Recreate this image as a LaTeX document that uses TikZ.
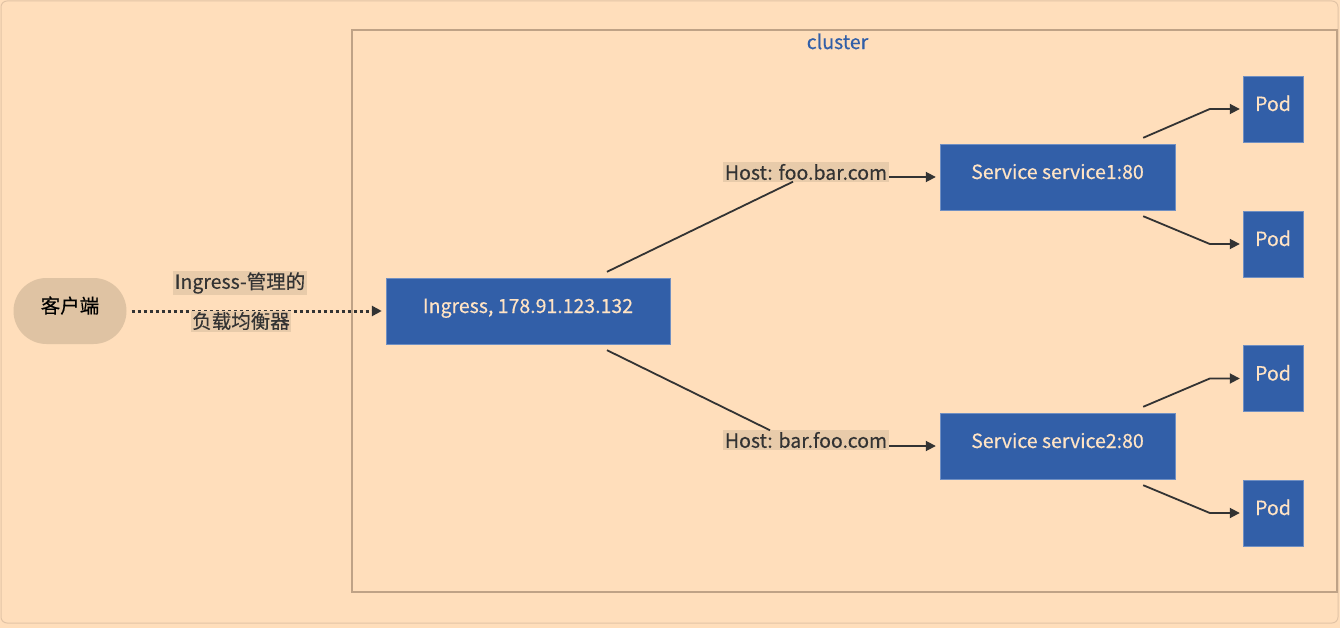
\documentclass[tikz,border=0pt]{standalone}
\usepackage{fontspec}
\setmainfont{Noto Sans CJK SC}[BoldFont={Noto Sans CJK SC},BoldFeatures={FakeBold=0.35}]
\usepackage{tikz}
\usetikzlibrary{arrows.meta}
\usetikzlibrary{calc}

\definecolor{peach}{HTML}{FFDEBB}
\definecolor{kblue}{HTML}{325FA8}
\definecolor{ktext}{HTML}{FFE3C4}
\definecolor{kclient}{HTML}{DFC3A3}
\definecolor{klabel}{HTML}{E8CBAA}
\definecolor{kdark}{HTML}{333333}
\definecolor{kborder}{HTML}{BFA286}
\definecolor{kframe}{HTML}{E2C4A6}

\begin{document}
\begin{tikzpicture}[x=1pt,y=-1pt,font=\fontsize{19.5}{23}\selectfont\bfseries,
    lbl/.style={fill=klabel,text=kdark,inner sep=1.5pt},
    link/.style={draw=kdark,line width=1.8pt,-{Triangle[length=10pt,width=10pt]},shorten >=4pt},
    plain/.style={draw=kdark,line width=1.8pt}]
  \useasboundingbox[fill=peach] (0,0) rectangle (1340,628);
  \draw[kframe,line width=1pt,rounded corners=6pt] (1,1) rectangle (1338,623);

  % cluster frame
  \node[draw=kborder,line width=2pt,minimum width=985pt,minimum height=562pt] (cl) at (844.5,311) {};
  \node[text=kblue,anchor=north] (cn) at ([xshift=-7pt,yshift=-1pt]cl.north) {cluster};

  \node[fill=kclient,rounded corners=33pt,minimum width=113pt,minimum height=66pt,
    text height=16pt,text depth=12pt] (c) at (70,311) {客户端};

  \begin{scope}[every node/.style={fill=kblue,draw=kblue!70!white,text=ktext,minimum height=66pt,
      inner sep=0pt,text height=16pt,text depth=12pt}]
    \node[minimum width=284pt] (i) at (528,311) {Ingress, 178.91.123.132};
    \node[minimum width=235pt] (s1) at (1057.5,177) {Service service1:80};
    \node[minimum width=235pt] (s2) at (1057.5,446) {Service service2:80};
    \node[minimum width=60pt] (p1) at (1273,109) {Pod};
    \node[minimum width=60pt] (p2) at (1273,244) {Pod};
    \node[minimum width=60pt] (p3) at (1273,378.5) {Pod};
    \node[minimum width=60pt] (p4) at (1273,513) {Pod};
  \end{scope}

  % client to ingress
  \draw[link,line width=3pt,dash pattern=on 3pt off 3pt,shorten <=5pt] (c.east) -- (i.west);
  \node[lbl] (lb1) at (240,283) {Ingress-管理的};
  \node[lbl] (lb2) at (241,321) {负载均衡器};

  % ingress to services
  \node[lbl] (h1) at (806,172) {Host: foo.bar.com};
  \node[lbl] (h2) at (806,440) {Host: bar.foo.com};
  \draw[plain] ([xshift=79pt,yshift=6pt]i.north) -- ([xshift=-13pt]h1.south);
  \draw[link] (h1.east |- s1.west) -- (s1.west);
  \draw[plain] ([xshift=79pt,yshift=-6pt]i.south) -- ([xshift=-36pt]h2.north);
  \draw[link] (h2.east |- s2.west) -- (s2.west);

  % services to pods
  \draw[link,shorten >=3pt] ([xshift=-32pt,yshift=6pt]s1.north east) -- ([xshift=-33pt]p1.west) -- (p1.west);
  \draw[link,shorten >=3pt] ([xshift=-32pt,yshift=-6pt]s1.south east) -- ([xshift=-33pt]p2.west) -- (p2.west);
  \draw[link,shorten >=3pt] ([xshift=-32pt,yshift=6pt]s2.north east) -- ([xshift=-33pt]p3.west) -- (p3.west);
  \draw[link,shorten >=3pt] ([xshift=-32pt,yshift=-6pt]s2.south east) -- ([xshift=-33pt]p4.west) -- (p4.west);
\end{tikzpicture}
\end{document}
